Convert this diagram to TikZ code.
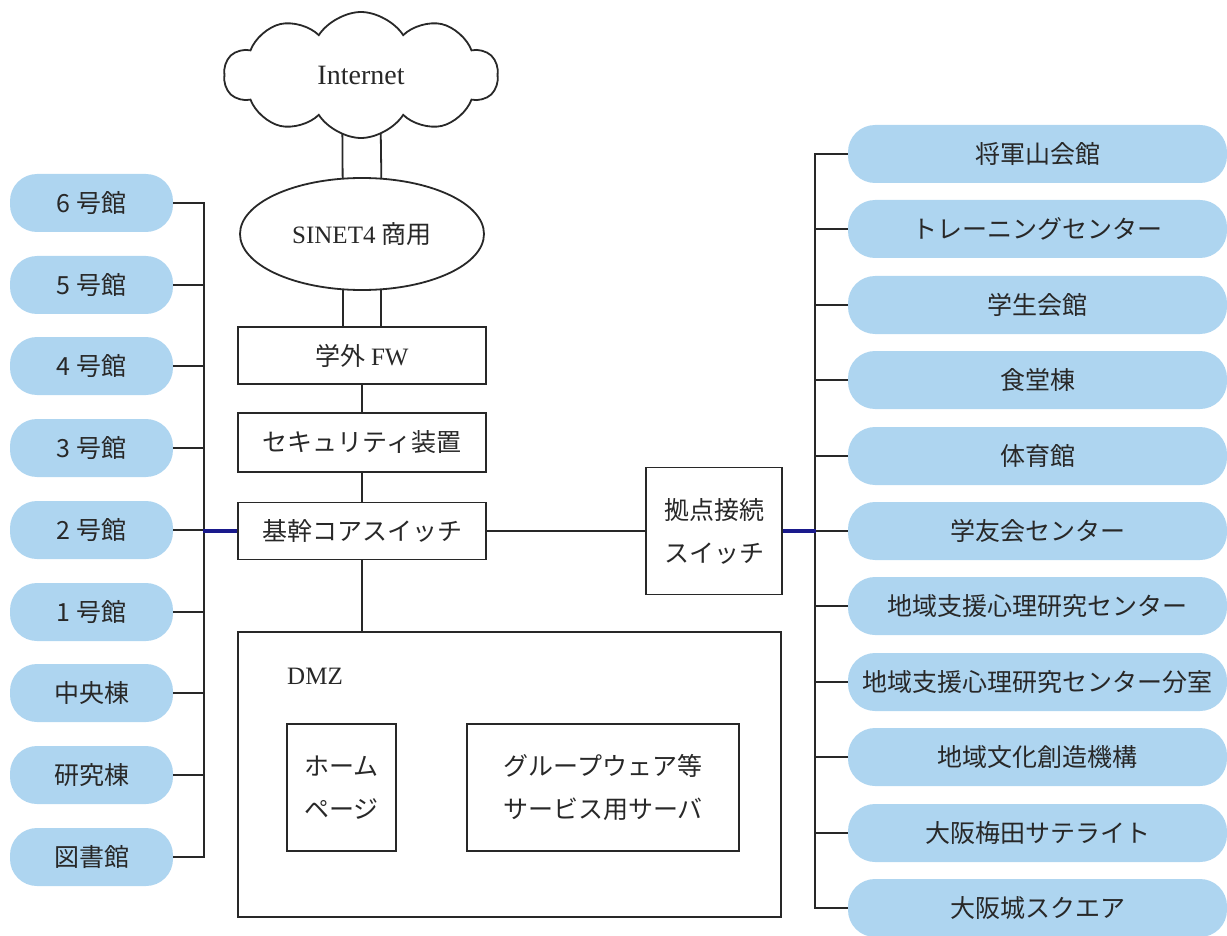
\documentclass[tikz,border=0pt]{standalone}
\usepackage{fontspec}
\setmainfont{Liberation Serif}
\newfontfamily\cjk{Noto Sans CJK JP}
\usetikzlibrary{shapes.symbols,shapes.geometric,backgrounds}
\definecolor{pill}{RGB}{174,213,240}
\definecolor{navy}{RGB}{26,26,140}
\definecolor{ln}{RGB}{40,40,40}
\begin{document}
\begin{tikzpicture}[x=1pt,y=-1pt,
  conn/.style={draw=ln, line width=1.8pt},
  txt/.style={font=\cjk\fontsize{25}{43}\selectfont, text=ln},
  box/.style={draw=ln, line width=1.8pt, fill=white, inner sep=0pt, align=center, txt},
  pillL/.style={fill=pill, draw=none, rounded corners=27pt, minimum width=163pt, minimum height=58pt, inner sep=0pt, txt},
  pillR/.style={fill=pill, draw=none, rounded corners=27pt, minimum width=379pt, minimum height=58pt, inner sep=0pt, txt},
  link/.style={draw=navy, line width=4pt}
]
\useasboundingbox (0,0) rectangle (1227,936);
% cloud and SINET
\node[cloud, cloud puffs=10, cloud puff arc=115, aspect=2.1, draw=ln, fill=white, line width=1.8pt,
      minimum width=274pt, minimum height=126pt, inner sep=0pt,
      font=\fontsize{28}{30}\selectfont, text=ln] (inet) at (361,75) {Internet};
\node[ellipse, draw=ln, fill=white, line width=1.8pt, minimum width=244pt, minimum height=112pt,
      inner sep=0pt, font=\fontsize{25}{28}\selectfont, text=ln] (sinet) at (362,234) {SINET4 {\cjk 商用}};
% stack
\node[box, minimum width=248pt, minimum height=57pt] (fw) at (362,355.5) {学外 {\rmfamily FW}};
\node[box, minimum width=248pt, minimum height=59pt] (sec) at (362,442.5) {セキュリティ装置};
\node[box, minimum width=248pt, minimum height=57pt] (core) at (362,531) {基幹コアスイッチ};
\node[box, minimum width=543pt, minimum height=285pt] (dmz) at (509.5,774.5) {};
\node[font=\fontsize{25}{28}\selectfont, text=ln] (dmzl) at (315,676) {DMZ};
\node[box, minimum width=109pt, minimum height=127pt] (home) at (341.5,787.5) {ホーム\\ページ};
\node[box, minimum width=272pt, minimum height=127pt] (grp) at (603,787.5) {グループウェア等\\サービス用サーバ};
\node[box, minimum width=136pt, minimum height=127pt] (kyo) at (714,531) {拠点接続\\スイッチ};
% left pills
\foreach \t/\y [count=\i] in {6 号館/203,5 号館/285,4 号館/366,3 号館/448,2 号館/530,1 号館/612,中央棟/693,研究棟/775,図書館/857}{
  \node[pillL] (L\i) at (91.5,\y) {\t};
}
% right pills
\foreach \t/\y [count=\i] in {将軍山会館/154,トレーニングセンター/229,学生会館/305,食堂棟/380,体育館/456,学友会センター/531,地域支援心理研究センター/606,地域支援心理研究センター分室/682,地域文化創造機構/757,大阪梅田サテライト/833,大阪城スクエア/908}{
  \node[pillR] (R\i) at (1037.5,\y) {\t};
}
% connectors
\begin{scope}[on background layer]
\draw[conn] ([xshift=-19pt]inet.center) -- (sinet.109);
\draw[conn] ([xshift=19pt]inet.center) -- (sinet.71);
\end{scope}
\draw[conn] (sinet.251) -- (sinet.251 |- fw.north);
\draw[conn] (sinet.289) -- (sinet.289 |- fw.north);
\draw[conn] (fw) -- (sec);
\draw[conn] (sec) -- (core);
\draw[conn] (core) -- (core |- dmz.north);
\draw[conn] (core.east) -- (core.east -| kyo.west);
% left bus
\draw[conn] (L1.east) -- ++(31,0) |- (L9.east);
\foreach \i in {2,...,8}{ \draw[conn] (L\i.east) -- ++(31,0); }
\draw[link] (core.west) -- ++(-34,0);
% right bus
\draw[conn] (R1.west) -- ++(-33,0) |- (R11.west);
\foreach \i in {2,...,10}{ \draw[conn] (R\i.west) -- ++(-33,0); }
\draw[link] (kyo.east) -- ++(33,0);
\end{tikzpicture}
\end{document}
